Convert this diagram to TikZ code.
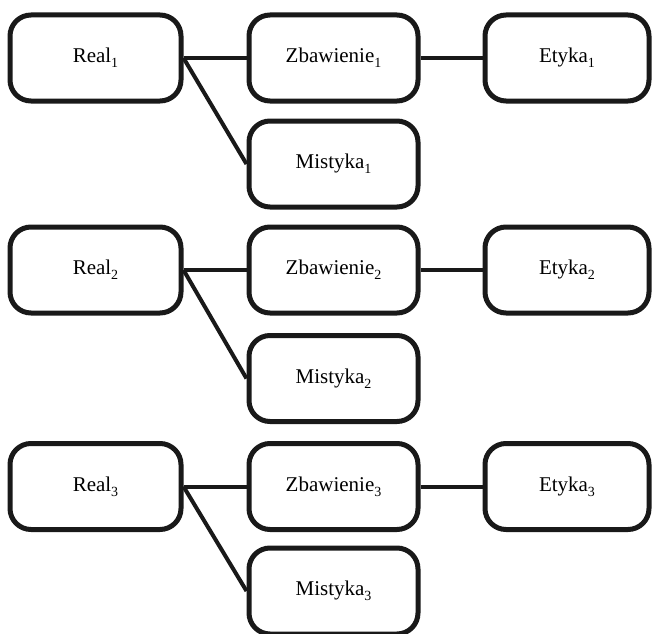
\documentclass[tikz,border=0pt]{standalone}
\usepackage{fontspec}
\setmainfont{Liberation Serif}
\newcommand{\lowsub}[1]{\raisebox{-0.55ex}{\fontsize{14}{14}\selectfont #1}}
\begin{document}
\begin{tikzpicture}[x=1pt,y=-1pt,
  box/.style={draw=black!90, line width=5pt, rounded corners=21pt, fill=white,
    inner sep=0pt, font=\fontsize{21}{25}\selectfont},
  boxA/.style={box, minimum width=171pt, minimum height=86pt},
  boxB/.style={box, minimum width=169pt, minimum height=86pt},
  boxC/.style={box, minimum width=164pt, minimum height=86pt},
  link/.style={draw=black!90, line width=4pt}]
\useasboundingbox (0,0) rectangle (653,634);
% row 1
\node[boxA] (r1) at (95.5,58) {Real\lowsub{1}};
\node[boxB] (z1) at (333.5,58) {Zbawienie\lowsub{1}};
\node[boxC] (e1) at (567,58) {Etyka\lowsub{1}};
\node[boxB] (m1) at (333.5,164) {Mistyka\lowsub{1}};
% row 2
\node[boxA] (r2) at (95.5,270) {Real\lowsub{2}};
\node[boxB] (z2) at (333.5,270) {Zbawienie\lowsub{2}};
\node[boxC] (e2) at (567,270) {Etyka\lowsub{2}};
\node[boxB] (m2) at (333.5,378.5) {Mistyka\lowsub{2}};
% row 3
\node[boxA] (r3) at (95.5,486.5) {Real\lowsub{3}};
\node[boxB] (z3) at (333.5,486.5) {Zbawienie\lowsub{3}};
\node[boxC] (e3) at (567,486.5) {Etyka\lowsub{3}};
\node[boxB] (m3) at (333.5,591) {Mistyka\lowsub{3}};
\foreach \i in {1,2,3}{
  \draw[link] (r\i.east) -- (z\i.west);
  \draw[link] (z\i.east) -- (e\i.west);
  \draw[link] (r\i.east) -- (m\i.west);
}
\end{tikzpicture}
\end{document}
